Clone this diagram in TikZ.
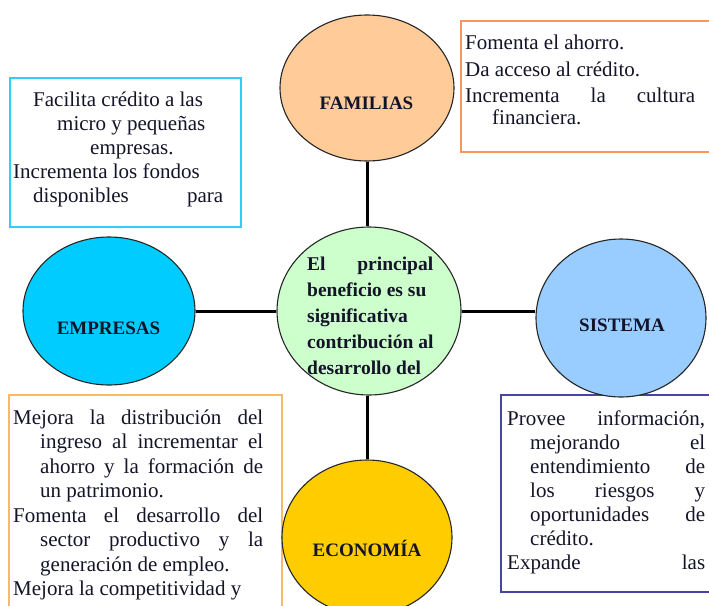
\documentclass[tikz,border=0pt]{standalone}
\usepackage{fontspec}
\setmainfont{Liberation Serif}
\usetikzlibrary{shapes.geometric}
\definecolor{famfill}{HTML}{FFCC99}
\definecolor{empfill}{HTML}{00CCFF}
\definecolor{cenfill}{HTML}{CCFFCC}
\definecolor{sisfill}{HTML}{99CCFF}
\definecolor{ecofill}{HTML}{FFCC00}
\definecolor{tlborder}{HTML}{33CCFF}
\definecolor{trborder}{RGB}{250,150,90}
\definecolor{blborder}{RGB}{250,185,100}
\definecolor{brborder}{RGB}{70,70,160}
\definecolor{inktext}{RGB}{20,20,40}
\begin{document}
\begin{tikzpicture}[x=1pt,y=-1pt,
  circ/.style={ellipse, draw=black!85, line width=1.1pt, inner sep=0pt},
  conn/.style={line width=3pt, black},
  lbl/.style={font=\fontsize{19}{22}\selectfont\bfseries, text=inktext, anchor=base, inner sep=0pt},
  boxtxt/.style={font=\fontsize{21}{24.5}\selectfont, text=inktext, anchor=base west, inner sep=0pt},
  boxline/.style={line width=1.8pt}]
\clip (0,0) rectangle (709,605);
\fill[white] (0,0) rectangle (709,605);

% text boxes
\draw[boxline, draw=tlborder] (10,78) rectangle (241,227);
\draw[boxline, draw=trborder] (461,21) rectangle (720,152);
\draw[boxline, draw=blborder] (9,395) rectangle (282,625);
\draw[boxline, draw=brborder] (501,395) rectangle (720,592);

% circles
\node[circ, fill=famfill, minimum width=174pt, minimum height=146pt] (fam) at (367,88) {};
\node[circ, fill=empfill, minimum width=172pt, minimum height=148pt] (emp) at (109,311) {};
\node[circ, fill=cenfill, minimum width=184pt, minimum height=168pt] (cen) at (369,311) {};
\node[circ, fill=sisfill, minimum width=170pt, minimum height=158pt] (sis) at (621,318) {};
\node[circ, fill=ecofill, minimum width=170pt, minimum height=155pt] (eco) at (367,537.5) {};

% connectors
\draw[conn] (fam.south) -- (fam.south |- cen.north);
\draw[conn] (emp.east) -- (emp.east -| cen.west);
\draw[conn] (cen.east) -- (cen.east -| sis.west);
\draw[conn] (eco.north |- cen.south) -- (eco.north);

% circle labels
\node[lbl] (famlbl) at (366.5,109.5) {FAMILIAS};
\node[lbl] (emplbl) at (108.5,334.5) {EMPRESAS};
\node[lbl] (sislbl) at (622,331) {SISTEMA};
\node[lbl] (ecolbl) at (367,556.5) {ECONOMÍA};

% central text
\node[font=\fontsize{19.5}{26}\selectfont\bfseries, text=inktext, anchor=base west, inner sep=0pt] (centxt) at (307,270)
  {\parbox[t]{130pt}{\raggedright
   \makebox[126pt][s]{El principal}\\
   beneficio es su\\
   significativa\\
   contribución al\\
   desarrollo del}};

% top-left text
\node[boxtxt] (tltxt) at (13,106)
  {\parbox[t]{230pt}{\raggedright\baselineskip=24pt
   \hspace*{20pt}Facilita crédito a las\\
   \hspace*{44pt}micro y pequeñas\\
   \hspace*{77pt}empresas.\\
   Incrementa los fondos\\
   \hspace*{20pt}\makebox[190pt][s]{disponibles para}}};

% top-right text
\node[boxtxt] (trtxt) at (465,49)
  {\parbox[t]{240pt}{\raggedright\baselineskip=22pt
   Fomenta el ahorro.\\[5pt]
   Da acceso al crédito.\\[4pt]
   \makebox[230pt][s]{Incrementa la cultura}\\
   \hspace*{27pt}financiera.}};

% bottom-left text
\node[boxtxt] (bltxt) at (13,424)
  {\parbox[t]{265pt}{\raggedright
   \makebox[250pt][s]{Mejora la distribución del}\\
   \hspace*{27pt}\makebox[223pt][s]{ingreso al incrementar el}\\
   \hspace*{27pt}\makebox[223pt][s]{ahorro y la formación de}\\
   \hspace*{27pt}un patrimonio.\\
   \makebox[250pt][s]{Fomenta el desarrollo del}\\
   \hspace*{27pt}\makebox[223pt][s]{sector productivo y la}\\
   \hspace*{27pt}generación de empleo.\\
   Mejora la competitividad y}};

% bottom-right text
\node[boxtxt] (brtxt) at (507,425)
  {\parbox[t]{205pt}{\raggedright\baselineskip=24pt
   \makebox[198pt][s]{Provee información,}\\
   \hspace*{23pt}\makebox[175pt][s]{mejorando el}\\
   \hspace*{23pt}\makebox[175pt][s]{entendimiento de}\\
   \hspace*{23pt}\makebox[175pt][s]{los riesgos y}\\
   \hspace*{23pt}\makebox[175pt][s]{oportunidades de}\\
   \hspace*{23pt}crédito.\\
   \makebox[198pt][s]{Expande las}}};
\end{tikzpicture}
\end{document}
